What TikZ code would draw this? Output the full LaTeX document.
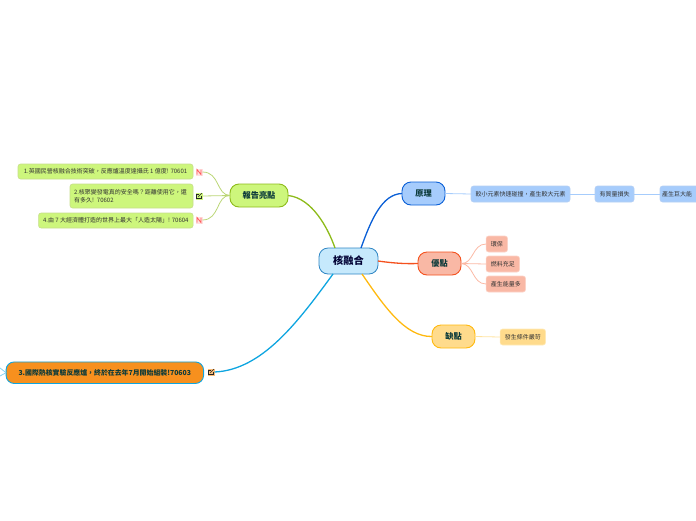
\documentclass[tikz,border=0pt]{standalone}
\usepackage{fontspec}
\usepackage{xcolor}
\setmainfont{Noto Sans CJK TC}
\usetikzlibrary{arrows.meta,positioning,calc}
\definecolor{corefill}{HTML}{C6E9FC}
\definecolor{coreline}{HTML}{2F86C4}
\definecolor{limefill}{HTML}{CDF67C}
\definecolor{limeline}{HTML}{8DBB1A}
\definecolor{bluefill}{HTML}{A6CCFC}
\definecolor{blueline}{HTML}{0A5FD6}
\definecolor{redfill}{HTML}{F9B8A5}
\definecolor{redline}{HTML}{F4511E}
\definecolor{goldfill}{HTML}{FFDB8C}
\definecolor{goldline}{HTML}{FFB90F}
\definecolor{skyline}{HTML}{0EA5E0}
\definecolor{orangefill}{HTML}{F7901E}
\definecolor{inktext}{HTML}{0B3A3A}
\begin{document}
\begin{tikzpicture}[
    x=1pt, y=-1pt,
    every node/.style={inner sep=0pt, outer sep=0pt, align=center, text=inktext},
    core/.style={rectangle, draw=coreline, fill=corefill, rounded corners=9pt, line width=0.8pt, minimum width=59pt, minimum height=26pt, font=\fontsize{10.2}{12}\selectfont\bfseries, text=black!80!blue},
    branch/.style={rectangle, rounded corners=9pt, line width=0.9pt, minimum height=23pt, font=\fontsize{8.2}{10}\selectfont\bfseries},
    leaf/.style={rectangle, rounded corners=2.5pt, line width=0.6pt, minimum height=16pt, font=\fontsize{6}{8}\selectfont, text=black!80},
    edge/.style={line width=1.3pt},
    twig/.style={line width=0.8pt},
    iconbox/.style={rectangle, minimum size=7pt}
]
\useasboundingbox (0,0) rectangle (696,520);
% centre and branches
\node[core] (fusion) at (348.5,261) {核融合};
\node[branch, draw=limeline, fill=limefill, minimum width=58pt] (report) at (259,195.5) {報告亮點};
\node[branch, draw=blueline, fill=bluefill, minimum width=43pt] (theory) at (423.5,193.5) {原理};
\node[branch, draw=redline, fill=redfill, minimum width=43pt] (merit) at (439.5,263.5) {優點};
\node[branch, draw=goldline, fill=goldfill, minimum width=43pt] (flaw) at (453.5,336.5) {缺點};
\node[branch, draw=skyline, fill=orangefill, minimum width=197.5pt, minimum height=21.5pt, rounded corners=8pt, font=\fontsize{6.9}{8}\selectfont\bfseries] (iter) at (104.8,372.7) {3.國際熱核實驗反應爐，終於在去年7月開始組裝!70603};

% report leaves
\node[leaf, draw=limeline!50, fill=limefill, minimum width=175pt, minimum height=15pt] (news1) at (105.5,171.5) {1.英國民營核融合技術突破，反應爐溫度達攝氏 1 億度! 70601};
\node[leaf, draw=limeline!50, fill=limefill, minimum width=123pt, minimum height=24pt, text width=115pt, align=left] (news2) at (131.5,196) {2.核聚變發電真的安全嗎？距離使用它，還\\有多久! 70602};
\node[leaf, draw=limeline!50, fill=limefill, minimum width=154.5pt, minimum height=15pt] (news4) at (115.8,220.5) {4.由 7 大經濟體打造的世界上最大「人造太陽」! 70604};

% icons
\node[iconbox, fill=red!12] (note1) at (199,172) {};
\node[iconbox, fill=limefill] (link2) at (199,196) {};
\node[iconbox, fill=red!12] (note4) at (199,220) {};
\node[iconbox, fill=orangefill!60] (link3) at (211,372) {};
\foreach \ic in {note1,note4} {
  \draw[red!65, line width=0.8pt] ([shift={(-2,2.5)}]\ic.center) -- ([shift={(-2,-2.5)}]\ic.center) -- ([shift={(2,2.5)}]\ic.center) -- ([shift={(2,-2.5)}]\ic.center);
}
\foreach \ic in {link2,link3} {
  \draw[black!85, line width=0.6pt] ([shift={(0,-2)}]\ic.center) -- ([shift={(-2.5,-2)}]\ic.center) -- ([shift={(-2.5,2.5)}]\ic.center) -- ([shift={(2,2.5)}]\ic.center) -- ([shift={(2,0)}]\ic.center);
  \draw[black!85, line width=0.6pt] ([shift={(-0.7,0.7)}]\ic.center) -- ([shift={(2.8,-2.8)}]\ic.center);
}

% theory chain
\node[leaf, draw=blueline!30, fill=bluefill, minimum width=99pt] (collide) at (520.5,194) {較小元素快速碰撞，產生較大元素};
\node[leaf, draw=blueline!30, fill=bluefill, minimum width=39pt] (massloss) at (614.5,194) {有質量損失};
\node[leaf, draw=blueline!30, fill=bluefill, text width=42pt, minimum width=46pt, align=left] (energy) at (683,194) {產生巨大能};

% merit and flaw leaves
\node[leaf, draw=redline!25, fill=redfill, minimum width=21.5pt] (green) at (496.8,244) {環保};
\node[leaf, draw=redline!25, fill=redfill, minimum width=33.5pt] (fuel) at (502.8,264) {燃料充足};
\node[leaf, draw=redline!25, fill=redfill, minimum width=39.5pt] (output) at (505.8,284) {產生能量多};
\node[leaf, draw=goldline!30, fill=goldfill, minimum width=45.5pt] (strict) at (522.8,337) {發生條件嚴苛};
\coordinate (offtop) at (0,368);
\coordinate (offlow) at (0,376);

% connectors
\draw[edge, limeline] ([xshift=-13.5pt]fusion.north) .. controls (328,228) and (312,198) .. (report.east);
\draw[edge, blueline] ([xshift=12.5pt]fusion.north) .. controls (371,220) and (382,194) .. (theory.west);
\draw[edge, redline] (fusion.east) .. controls (392,263) and (405,264) .. (merit.west);
\draw[edge, goldline] ([xshift=13.5pt]fusion.south) .. controls (384,306) and (405,337) .. (flaw.west);
\draw[edge, skyline] ([xshift=-15.5pt]fusion.south) .. controls (298,322) and (262,370) .. (link3.east);
\draw[twig, skyline!50] (iter.west) -- (offtop);
\draw[twig, skyline!50] (iter.west) -- (offlow);

\draw[twig, limeline!60] (report.west) .. controls (216,195) and (220,172) .. (note1.east);
\draw[twig, limeline!60] (report.west) -- (link2.east);
\draw[twig, limeline!60] (report.west) .. controls (216,195) and (220,220) .. (note4.east);

\draw[twig, bluefill] (theory.east) -- (collide.west);
\draw[twig, bluefill] (collide.east) -- (massloss.west);
\draw[twig, bluefill] (massloss.east) -- (energy.west);

\draw[twig, redline!40] (merit.east) .. controls (474,264) and (472,244) .. (green.west);
\draw[twig, redline!40] (merit.east) -- (fuel.west);
\draw[twig, redline!40] (merit.east) .. controls (474,264) and (472,284) .. (output.west);
\draw[twig, goldline!40] (flaw.east) -- (strict.west);
\end{tikzpicture}
\end{document}
